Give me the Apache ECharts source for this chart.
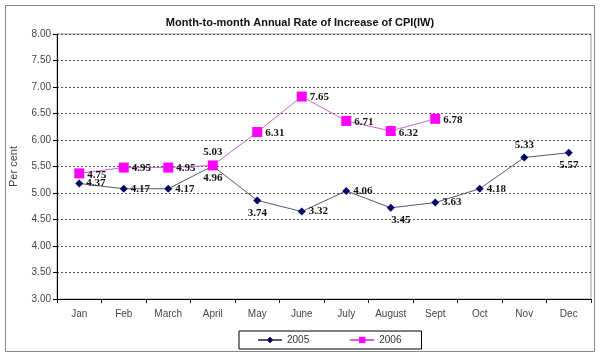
<!DOCTYPE html>
<html><head><meta charset="utf-8">
<script src="https://cdn.jsdelivr.net/npm/echarts@6/dist/echarts.min.js"></script>
<style>html,body{margin:0;padding:0;background:#fff}#c{width:600px;height:356px}</style>
</head><body><div id="c"></div>
<script>
const categories = ['Jan','Feb','March','April','May','June','July','August','Sept','Oct','Nov','Dec'];
const values2005 = [5.18,5.08,5.08,5.51,4.86,4.65,5.04,4.72,4.82,5.08,5.67,5.76];
const labels2005 = ['4.37','4.17','4.17','4.96','3.74','3.32','4.06','3.45','3.63','4.18','5.33','5.57'];
const labelPos2005 = ['right','right','right','bottom','bottom','right','right','bottom','right','right','top','bottom'];
const values2006 = [5.37,5.48,5.48,5.52,6.15,6.82,6.36,6.17,6.40];
const labels2006 = ['4.75','4.95','4.95','5.03','6.31','7.65','6.71','6.32','6.78'];
const labelPos2006 = ['right','right','right','top','right','right','right','right','right'];
const yTicks = {min:3, max:8, interval:0.5};

const labelStyle = {fontFamily:'Liberation Serif', fontWeight:'bold', fontSize:11, color:'#111'};
function mk(vals, labs, pos, offsets){
  return vals.map((v,i)=>({value:v, label:Object.assign({position:pos[i], distance:3, formatter:labs[i]}, offsets && offsets[i] ? {offset:offsets[i]} : {})}));
}
const off2005 = {7:[10,0]};
const off2006 = {0:[0,2],1:[0,1],2:[0,1],4:[0,1],5:[0,1],6:[0,1],7:[0,2],8:[0,1]};
const chart = echarts.init(document.getElementById('c'));
chart.setOption({
  animation:false,
  title:{text:'Month-to-month Annual Rate of Increase of CPI(IW)', left:'center', top:12,
    textStyle:{fontFamily:'Liberation Sans', fontWeight:'bold', fontSize:11, color:'#111'}},
  graphic:[{type:'rect', shape:{x:5.5,y:5.5,width:589,height:346}, style:{fill:null, stroke:'#888', lineWidth:1}, z:-1}],
  grid:{left:53, right:9, top:34, bottom:57, show:true, borderColor:'#999', borderWidth:1},
  legend:{left:239, top:331, itemGap:40, itemWidth:24, itemHeight:8,
    padding:[4,20,4,18], borderColor:'#000', borderWidth:1,
    textStyle:{fontFamily:'Liberation Sans', fontSize:10, color:'#333'},
    data:['2005','2006']},
  xAxis:{type:'category', data:categories, boundaryGap:true,
    axisLine:{lineStyle:{color:'#000'}}, axisTick:{show:true, length:4, lineStyle:{color:'#000'}},
    axisLabel:{fontFamily:'Liberation Sans', fontSize:10, color:'#444', margin:10}},
  yAxis:{type:'value', min:yTicks.min, max:yTicks.max, interval:yTicks.interval,
    name:'Per cent', nameLocation:'middle', nameGap:38, nameRotate:90,
    nameTextStyle:{fontFamily:'Liberation Sans', fontSize:11, color:'#444'},
    axisLine:{show:true, lineStyle:{color:'#000'}}, axisTick:{show:true, length:4, lineStyle:{color:'#000'}},
    axisLabel:{fontFamily:'Liberation Sans', fontSize:10, color:'#444', margin:6, formatter:v=>v.toFixed(2)},
    splitLine:{show:true, lineStyle:{color:'#555', type:[2,2], width:1}}},
  series:[
    {name:'2005', type:'line', data:mk(values2005, labels2005, labelPos2005, off2005), symbol:'diamond', symbolSize:8,
      lineStyle:{color:'#555577', width:1}, itemStyle:{color:'#000066'},
      label:Object.assign({show:true}, labelStyle), z:3},
    {name:'2006', type:'line', data:mk(values2006, labels2006, labelPos2006, off2006), symbol:'rect', symbolSize:10,
      lineStyle:{color:'#cc66cc', width:1}, itemStyle:{color:'#ff00ff'},
      label:Object.assign({show:true}, labelStyle), z:4}
  ]
});
</script></body></html>
